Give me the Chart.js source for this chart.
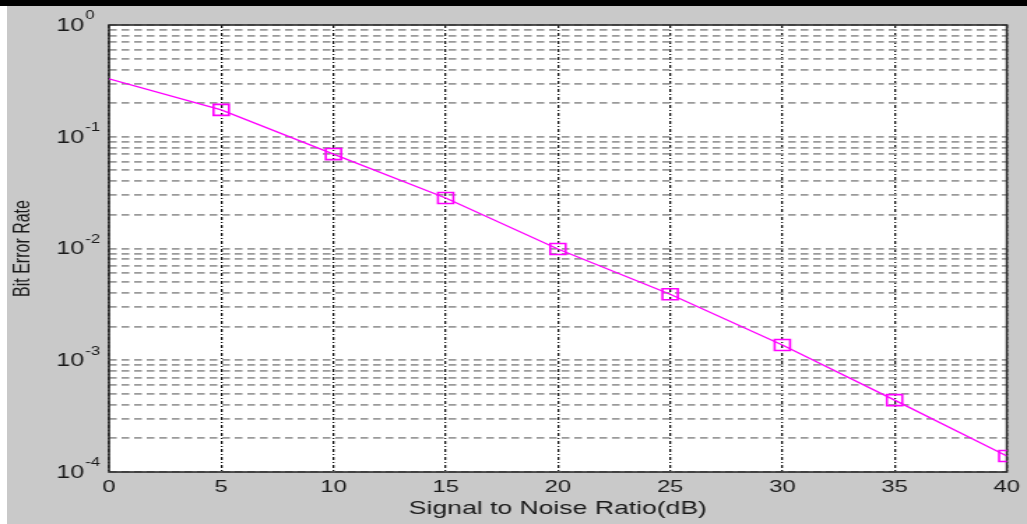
<!DOCTYPE html>
<html>
<head>
<meta charset="utf-8">
<script src="https://cdn.jsdelivr.net/npm/chart.js@4"></script>
<style>
  html, body { margin: 0; padding: 0; background: #fff; }
  #bar { position: absolute; left: 0; top: 0; width: 1027px; height: 6px; background: #000; }
  #panel { position: absolute; left: 7px; top: 6px; width: 1020px; height: 518px; background: #c9c9c9; overflow: hidden; }
  /* the source figure is a horizontally stretched MATLAB plot */
  #stretch { width: 730px; height: 518px; transform: scaleX(1.39726); transform-origin: 0 0; }
</style>
</head>
<body>
<div id="bar"></div>
<div id="panel"><div id="stretch"><canvas id="chart"></canvas></div></div>
<script>
"use strict";

// SNR (dB) -> bit error rate
const snrDb = [0, 5, 10, 15, 20, 25, 30, 35, 40];
const ber = [0.33, 0.174, 0.070, 0.0283, 0.0099, 0.0039, 0.00137, 0.00044, 0.000139];
// no marker on the first point
const markerSize = [0, 7.8, 7.8, 7.8, 7.8, 7.8, 7.8, 7.8, 7.8];

const xTickValues = [0, 5, 10, 15, 20, 25, 30, 35, 40];
const yDecadeExps = [-4, -3, -2, -1, 0];
const yMinorSteps = [1, 2, 3, 4, 5, 6, 7, 8, 9];

const TEXT = "#1a1a1a";
const FONT = '"Liberation Sans", Arial, sans-serif';

function yGridValues() {
  const out = [];
  for (const e of yDecadeExps) {
    if (e === 0) { out.push(1); continue; }
    for (const m of yMinorSteps) out.push(m * Math.pow(10, e));
  }
  return out;
}

const plotDecor = {
  id: "plotDecor",
  beforeDraw(chart) {
    const { ctx, chartArea: a } = chart;
    ctx.save();
    ctx.fillStyle = "#fff";
    ctx.fillRect(a.left, a.top, a.right - a.left, a.bottom - a.top);
    ctx.restore();
  },
  beforeDatasetsDraw(chart) {
    const { ctx, chartArea: a } = chart;
    ctx.save();
    ctx.strokeStyle = "#2a2a2a";
    ctx.lineWidth = 1.6;
    ctx.strokeRect(a.left, a.top, a.right - a.left, a.bottom - a.top);
    ctx.restore();
  },
  afterDraw(chart) {
    // y labels as 10 with a raised exponent
    const { ctx } = chart;
    const y = chart.scales.y;
    const xBase = 55.3;
    ctx.save();
    ctx.fillStyle = TEXT;
    ctx.textBaseline = "middle";
    for (const e of yDecadeExps) {
      const py = y.getPixelForValue(Math.pow(10, e));
      ctx.font = "18px " + FONT;
      ctx.textAlign = "right";
      ctx.fillText("10", xBase, py + 1);
      ctx.font = "12px " + FONT;
      ctx.textAlign = "left";
      ctx.fillText(String(e), xBase + 0.8, py - 9);
    }
    ctx.restore();
  },
};

new Chart(document.getElementById("chart"), {
  type: "line",
  data: {
    datasets: [{
      data: snrDb.map((x, i) => ({ x, y: ber[i] })),
      borderColor: "#ff00ff",
      borderWidth: 1.3,
      pointStyle: "rect",
      pointRadius: markerSize,
      pointBorderColor: "#ff00ff",
      pointBackgroundColor: "rgba(0,0,0,0)",
      pointBorderWidth: 1.6,
      tension: 0,
    }],
  },
  options: {
    responsive: true,
    maintainAspectRatio: false,
    animation: false,
    layout: { padding: { left: 0, top: 19, right: 10, bottom: 0 } },
    plugins: { legend: { display: false }, tooltip: { enabled: false } },
    scales: {
      x: {
        type: "linear",
        min: 0,
        max: 40,
        afterBuildTicks: (s) => { s.ticks = xTickValues.map((v) => ({ value: v })); },
        afterFit: (s) => { s.height = 52; },
        grid: { color: "#111", lineWidth: 1.3, drawTicks: false },
        border: { display: false, dash: [3, 2, 1, 2] },
        ticks: { autoSkip: false, maxRotation: 0, padding: 5, color: TEXT, font: { size: 17, family: FONT } },
        title: {
          display: true,
          text: "Signal to Noise Ratio(dB)",
          color: TEXT,
          font: { size: 19, family: FONT },
          padding: { top: 0, bottom: 4 },
        },
      },
      y: {
        type: "logarithmic",
        min: 1e-4,
        max: 1,
        afterBuildTicks: (s) => { s.ticks = yGridValues().map((v) => ({ value: v })); },
        afterFit: (s) => { s.width = 73; },
        grid: { color: "#9a9a9a", lineWidth: 1.8, drawTicks: false },
        border: { display: false, dash: [5.5, 3.5] },
        ticks: { display: false, autoSkip: false },
        title: {
          display: true,
          text: "Bit Error Rate",
          color: TEXT,
          font: { size: 16, family: FONT },
          padding: { top: 2, bottom: 0 },
        },
      },
    },
  },
  plugins: [plotDecor],
});
</script>
</body>
</html>
